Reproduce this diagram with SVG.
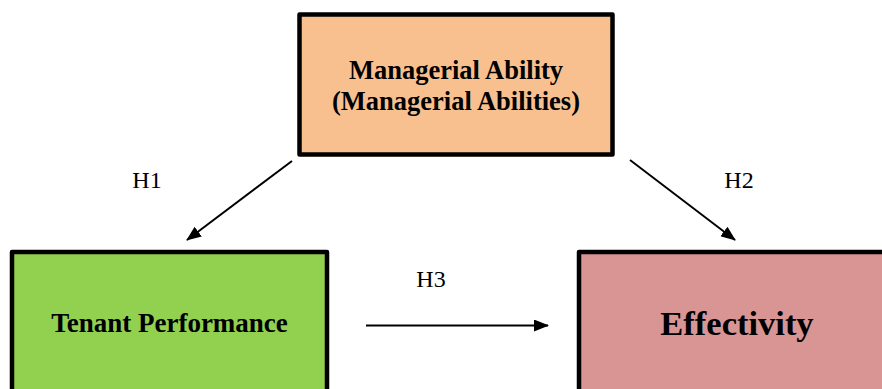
<svg xmlns="http://www.w3.org/2000/svg" width="882" height="389" viewBox="0 0 882 389">
<style>
.box{stroke:#000;stroke-width:4.5;stroke-linejoin:round}
.t{font-family:"Liberation Serif",serif;font-weight:bold;fill:#000;text-anchor:middle}
.lbl{font-family:"Liberation Serif",serif;font-size:24px;fill:#000;text-anchor:middle}
.conn{stroke:#000;stroke-width:2;fill:none;marker-end:url(#ah)}
</style>
<defs>
<marker id="ah" markerWidth="15" markerHeight="12" refX="14" refY="6" orient="auto" markerUnits="userSpaceOnUse" viewBox="0 0 15 12">
<path d="M0,0 L15,6 L0,12 Z" fill="#000"/>
</marker>
</defs>
<rect width="882" height="389" fill="#fff"/>
<g id="managerial">
<rect class="box" x="299.5" y="14.5" width="313" height="140" fill="#F9C08F"/>
<text class="t" x="456" y="79" font-size="26.5">Managerial Ability</text>
<text class="t" x="456" y="110" font-size="26.5">(Managerial Abilities)</text>
</g>
<g id="tenant">
<rect class="box" x="12" y="252" width="315" height="150" fill="#92D050"/>
<text class="t" x="169.5" y="332" font-size="27">Tenant Performance</text>
</g>
<g id="effectivity">
<rect class="box" x="579" y="252" width="320" height="150" fill="#D99594"/>
<text class="t" x="737" y="335" font-size="34.5">Effectivity</text>
</g>
<g id="connectors">
<line class="conn" x1="292" y1="161" x2="187" y2="240"/>
<line class="conn" x1="630" y1="160" x2="735" y2="240"/>
<line class="conn" x1="366" y1="325.5" x2="548" y2="325.5"/>
<text class="lbl" x="147" y="188">H1</text>
<text class="lbl" x="739" y="188">H2</text>
<text class="lbl" x="431" y="287">H3</text>
</g>
</svg>
